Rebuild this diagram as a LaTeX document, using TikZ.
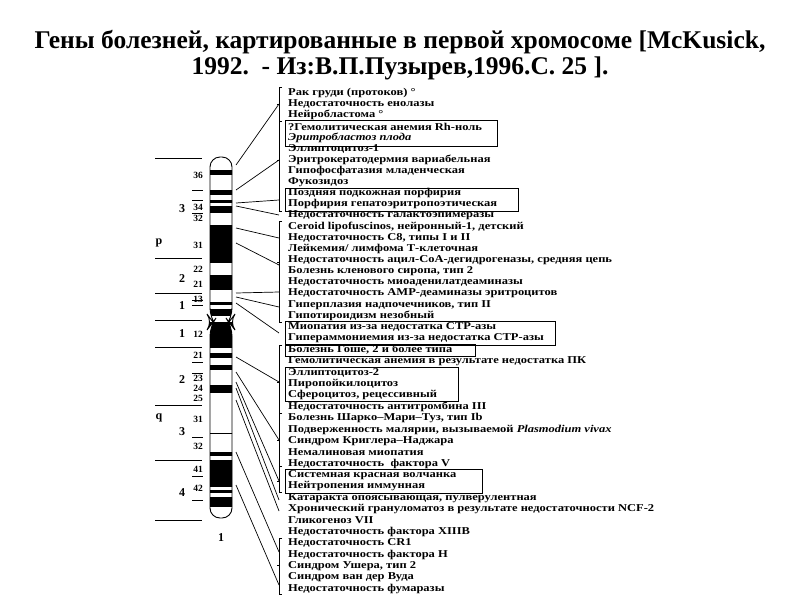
\documentclass[tikz,border=0pt]{standalone}
\usepackage{fontspec}
\setmainfont{Liberation Serif}
\newcommand{\stretchit}[1]{\scalebox{1.19}[1]{#1}}
\begin{document}
\begin{tikzpicture}[x=1pt,y=-1pt,
  item/.style={anchor=west,inner sep=0pt,font=\bfseries\fontsize{10.5}{10.5}\selectfont},
  conn/.style={line width=0.7pt},
  brk/.style={line width=0.6pt},
  grp/.style={draw,line width=0.7pt},
  band/.style={fill=black},
  lbl/.style={font=\bfseries\fontsize{9.5}{9.5}\selectfont,inner sep=0.5pt},
  reg/.style={font=\bfseries\fontsize{12}{12}\selectfont}]
\useasboundingbox (0,0) rectangle (800,600);
\node[font=\bfseries\fontsize{25.5}{26}\selectfont,align=center] (title) at (400,55)
 {Гены болезней, картированные в первой хромосоме [McKusick,\\1992.\ \ - Из:В.П.Пузырев,1996.С. 25 ].};
% list
\foreach \i/\t in {1/{Рак груди (протоков) °},2/{Недостаточность енолазы},3/{Нейробластома °},
4/{?Гемолитическая анемия Rh-ноль},5/{\itshape Эритробластоз плода},6/{Эллиптоцитоз-1},
7/{Эритрокератодермия вариабельная},8/{Гипофосфатазия младенческая},9/{Фукозидоз},
10/{Поздняя подкожная порфирия},11/{Порфирия гепатоэритропоэтическая},12/{Недостаточность галактоэпимеразы},
13/{Ceroid lipofuscinos, нейронный-1, детский},14/{Недостаточность С8, типы I и II},
15/{Лейкемия/ лимфома Т-клеточная},16/{Недостаточность ацил-СоА-дегидрогеназы, средняя цепь},
17/{Болезнь кленового сиропа, тип 2},18/{Недостаточность миоаденилатдеаминазы},
19/{Недостаточность АМР-деаминазы эритроцитов},20/{Гиперплазия надпочечников, тип II},
21/{Гипотироидизм незобный},22/{Миопатия из-за недостатка СТР-азы},
23/{Гипераммониемия из-за недостатка СТР-азы},24/{Болезнь Гоше, 2 и более типа},
25/{Гемолитическая анемия в результате недостатка ПК},26/{Эллиптоцитоз-2},27/{Пиропойкилоцитоз},
28/{Сфероцитоз, рецессивный},29/{Недостаточность антитромбина III},30/{Болезнь Шарко–Мари–Туз, тип Ib},
31/{Подверженность малярии, вызываемой {\itshape Plasmodium vivax}},32/{Синдром Криглера–Наджара},
33/{Немалиновая миопатия},34/{Недостаточность\ \ фактора V},35/{Системная красная волчанка},
36/{Нейтропения иммунная},37/{Катаракта опоясывающая, пулверулентная},
38/{Хронический грануломатоз в результате недостаточности NCF-2},39/{Гликогеноз VII},
40/{Недостаточность фактора XIIIB},41/{Недостаточность CR1},42/{Недостаточность фактора H},
43/{Синдром Ушера, тип 2},44/{Синдром ван дер Вуда},45/{Недостаточность фумаразы}}
 \node[item] (t\i) at (288,{\i<23 ? 93+(\i-1)*11.143 : 327+(\i-22)*11.39}) {\stretchit{\t}};
% boxes
\draw[grp] (285,120) rectangle (497,146);
\draw[grp] (285,188) rectangle (518,211);
\draw[grp] (285,321) rectangle (555,345);
\draw[grp] (285,344) rectangle (475,356);
\draw[grp] (285,367) rectangle (458,401);
\draw[grp] (285,469) rectangle (482,493);
% brackets
\foreach \a/\b/\m in {87/121/104,121/211/160,221/322/262,345/413/382,413/466/440,466/492/481,538/594/565}{
 \draw[brk] (282,\a) -- (279,\a) -- (279,\b) -- (282,\b);
 \draw[brk] (279,\m) -- (277,\m);
}
% chromosome bands
\begin{scope}
\clip[rounded corners=10] (210,157) -- (210,318) -- (213,322) -- (210,326) -- (210,518) -- (232,518) -- (232,326) -- (229,322) -- (232,318) -- (232,157) -- cycle;
\foreach \a/\b in {170/175,190/195,200/203,206/213,225/263,275/290,302/305,309/316,322/348,353/358,365/370,385/393,433/434,452/456,460/487,490/493,497/507}
 \fill[band] (205,\a) rectangle (237,\b);
\end{scope}
\draw[line width=0.9pt,rounded corners=10] (210,157) -- (210,318) -- (213,322) -- (210,326) -- (210,518) -- (232,518) -- (232,326) -- (229,322) -- (232,318) -- (232,157) -- cycle;
% left lines
\foreach \y in {158,258,293,320,347,405,460,520} \draw[line width=0.7pt] (155,\y) -- (202,\y);
\foreach \y in {190,200,213,300,305,362,373,437,476,500} \draw[line width=0.6pt] (192,\y) -- (203,\y);
\foreach \y/\t in {175/36,207/34,218/32,245/31,269/22,284/21,299/13,334/12,355/21,378/23,388/24,398/25,419/31,446/32,469/41,488/42}
 \node[lbl] at (198,\y) {\t};
\foreach \y/\t in {209/3,279/2,306/1,334/1,380/2,432/3,493/4}
 \node[reg] at (182,\y) {\t};
\node[reg] (p) at (159,243) {p};
\node[reg] (q) at (159,418) {q};
\node[reg] (c1) at (221,538) {1};
% connectors
\foreach \ya/\yb in {165/104,190/160,203/200,206/215,228/238,243/265,293/292,297/307,303/333,357/382,372/440,382/481,388/500,400/511,452/552,485/585}
 \draw[conn] (236,\ya) -- (279,\yb);
\end{tikzpicture}
\end{document}
